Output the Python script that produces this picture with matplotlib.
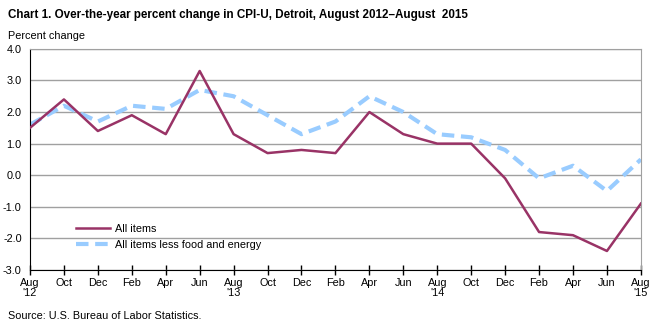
import matplotlib
matplotlib.use('Agg')
import matplotlib.pyplot as plt

plt.rcParams['font.family'] = ['Liberation Sans', 'DejaVu Sans']

# bimonthly readings, Aug 2012 through Aug 2015
months = ['Aug', 'Oct', 'Dec', 'Feb', 'Apr', 'Jun',
          'Aug', 'Oct', 'Dec', 'Feb', 'Apr', 'Jun',
          'Aug', 'Oct', 'Dec', 'Feb', 'Apr', 'Jun', 'Aug']
year_marks = {0: "'12", 6: "'13", 12: "'14", 18: "'15"}

all_items = [1.5, 2.4, 1.4, 1.9, 1.3, 3.3, 1.3, 0.7, 0.8, 0.7,
             2.0, 1.3, 1.0, 1.0, -0.1, -1.8, -1.9, -2.4, -0.9]
core_items = [1.6, 2.2, 1.7, 2.2, 2.1, 2.7, 2.5, 1.9, 1.3, 1.7,
              2.5, 2.0, 1.3, 1.2, 0.8, -0.1, 0.3, -0.5, 0.5]

y_ticks = [4.0, 3.0, 2.0, 1.0, 0.0, -1.0, -2.0, -3.0]

fig = plt.figure(figsize=(6.59, 3.26), dpi=100)
ax = fig.add_axes([0.0455, 0.172, 0.927, 0.678])

x = list(range(len(months)))
ax.plot(x, all_items, color='#993366', lw=1.8, label='All items', zorder=3)
ax.plot(x, core_items, color='#99CCFF', lw=3, ls=(0, (3, 1.6)),
        label='All items less food and energy', zorder=2)

ax.set_xlim(0, len(months) - 1)
ax.set_ylim(-3, 4)
ax.set_yticks(y_ticks)
ax.set_yticklabels(['%.1f' % v for v in y_ticks])
ax.set_xticks(x)
ax.set_xticklabels([m + ('\n' + year_marks[i] if i in year_marks else '')
                    for i, m in enumerate(months)], linespacing=1.05)

ax.grid(axis='y', color='#A0A0A0', lw=1)
ax.set_axisbelow(True)
for s in ['top', 'right']:
    ax.spines[s].set_color('#A0A0A0')
for s in ['left', 'bottom']:
    ax.spines[s].set_color('black')
ax.tick_params(axis='y', length=0, labelsize=7.8, pad=6)
ax.tick_params(axis='x', direction='inout', length=7, width=1, labelsize=7.8, pad=2)

ax.legend(loc='lower left', bbox_to_anchor=(0.06, 0.045), frameon=False,
          fontsize=7.8, handlelength=3.1, handletextpad=0.5, labelspacing=0.55)

fig.text(0.012, 0.955, 'Chart 1. Over-the-year percent change in CPI-U, Detroit, August 2012\u2013August  2015',
         fontsize=8.4, fontweight='bold', va='center')
fig.text(0.012, 0.89, 'Percent change', fontsize=7.8, va='center')
fig.text(0.012, 0.03, 'Source: U.S. Bureau of Labor Statistics.', fontsize=7.8, va='center')

fig.savefig('out.png', dpi=100)
